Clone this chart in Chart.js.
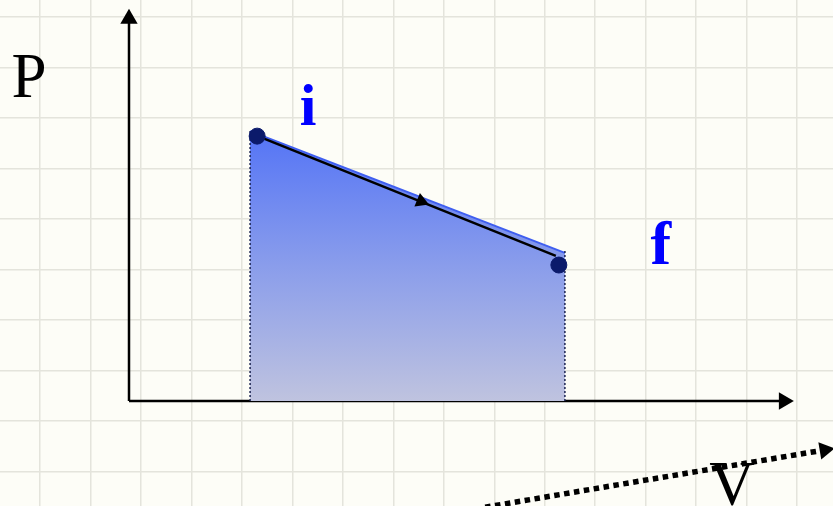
<!DOCTYPE html>
<html>
<head>
<meta charset="utf-8">
<script src="https://cdn.jsdelivr.net/npm/chart.js@4/dist/chart.umd.min.js"></script>
<style>
  html, body { margin: 0; padding: 0; background: #fdfdf7; }
  #wrap { width: 833px; height: 506px; }
</style>
</head>
<body>
<div id="wrap"><canvas id="pvChart"></canvas></div>
<script>
// P-V diagram, one grid cell = 1 unit, origin where the axes meet
const stateNames = ['i', 'f'];
const stateV = [2.54, 8.52];
const stateP = [5.24, 2.69];

// top edge of the shaded area (work done)
const areaV = [2.40, 8.64];
const areaP = [5.34, 2.93];

// process line i -> f
const pathV = [2.43, 8.46];
const pathP = [5.29, 2.87];

// background grid lines
const gridV = [-1.76, -0.76, 0.24, 1.24, 2.24, 3.24, 4.24, 5.24, 6.24, 7.24, 8.24, 9.24, 10.24, 11.24, 12.24, 13.24];
const gridP = [7.6, 6.6, 5.6, 4.6, 3.6, 2.6, 1.6, 0.6, -0.4, -1.4];

// axes lengths
const vAxisEnd = 12.94;
const pAxisEnd = 7.54;

// the stray dotted arrow at the bottom right
const strayV = [7.06, 13.66];
const strayP = [-2.10, -0.99];

const xy = (vs, ps) => vs.map((v, k) => ({ x: v, y: ps[k] }));

// (EN) text labels drawn on top of the chart
const labelsPlugin = {
    id: 'pvLabels',
    afterDraw(chart) {
        const ctx = chart.ctx;
        const sx = chart.scales.x, sy = chart.scales.y;
        ctx.save();
        ctx.textAlign = 'center';
        ctx.textBaseline = 'alphabetic';
        ctx.fillStyle = '#000';
        ctx.font = '63px "Liberation Serif"';
        ctx.fillText('P', sx.getPixelForValue(-1.98), sy.getPixelForValue(6.02));
        ctx.fillText('V', sx.getPixelForValue(11.95), sy.getPixelForValue(-2.05));
        ctx.fillStyle = '#0000ff';
        ctx.font = 'bold 60px "Liberation Serif"';
        ctx.fillText(stateNames[0], sx.getPixelForValue(3.55), sy.getPixelForValue(5.46));
        ctx.font = 'bold 62px "Liberation Serif"';
        ctx.fillText(stateNames[1], sx.getPixelForValue(10.54), sy.getPixelForValue(2.72));
        ctx.restore();
    }
};

new Chart(document.getElementById('pvChart'), {
    type: 'scatter',
    data: {
        datasets: [
            {   // states
                data: xy(stateV, stateP),
                pointRadius: 8,
                pointBackgroundColor: '#0b1a6b',
                pointBorderColor: '#0b1a6b',
                showLine: false
            },
            {   // arrowheads: mid path, V axis, P axis, stray arrow
                data: [
                    { x: 5.79, y: 3.95 },
                    { x: 12.98, y: 0 },
                    { x: 0, y: 7.56 },
                    { x: 13.79, y: -0.97 }
                ],
                pointStyle: 'triangle',
                pointRadius: [8.5, 10, 10, 10],
                pointRotation: [111.9, 90, 0, 80.5],
                pointBackgroundColor: '#000',
                pointBorderWidth: 0,
                showLine: false
            },
            {   // process line
                data: xy(pathV, pathP),
                showLine: true,
                borderColor: '#000',
                borderWidth: 2.5,
                pointRadius: 0
            },
            {   // left dotted drop line
                data: [{ x: areaV[0], y: 0 }, { x: areaV[0], y: areaP[0] }],
                showLine: true,
                borderColor: '#1a2250',
                borderWidth: 1.5,
                borderDash: [2, 2],
                pointRadius: 0
            },
            {   // right dotted drop line
                data: [{ x: areaV[1], y: 0 }, { x: areaV[1], y: 2.99 }],
                showLine: true,
                borderColor: '#1a2250',
                borderWidth: 1.5,
                borderDash: [2, 2],
                pointRadius: 0
            },
            {   // shaded area under the path
                data: xy(areaV, areaP),
                showLine: true,
                borderColor: '#3f5ef0',
                borderWidth: 2,
                pointRadius: 0,
                fill: 'origin',
                backgroundColor(c) {
                    const area = c.chart.chartArea;
                    if (!area) return '#7a8ff0';
                    const y = c.chart.scales.y;
                    const g = c.chart.ctx.createLinearGradient(0, y.getPixelForValue(areaP[0]), 0, y.getPixelForValue(0));
                    g.addColorStop(0, '#5474f6');
                    g.addColorStop(0.5, '#8a9deb');
                    g.addColorStop(1, '#bfc3df');
                    return g;
                }
            },
            {   // V axis
                data: [{ x: 0, y: 0 }, { x: vAxisEnd, y: 0 }],
                showLine: true,
                borderColor: '#000',
                borderWidth: 2.5,
                pointRadius: 0
            },
            {   // P axis
                data: [{ x: 0, y: 0 }, { x: 0, y: pAxisEnd }],
                showLine: true,
                borderColor: '#000',
                borderWidth: 2.5,
                pointRadius: 0
            },
            {   // stray dotted arrow
                data: xy(strayV, strayP),
                showLine: true,
                borderColor: '#000',
                borderWidth: 5.5,
                borderDash: [5.5, 4.5],
                pointRadius: 0
            }
        ]
    },
    options: {
        responsive: true,
        maintainAspectRatio: false,
        animation: false,
        layout: { padding: 0, autoPadding: false },
        plugins: { legend: { display: false }, tooltip: { enabled: false } },
        scales: {
            x: {
                type: 'linear',
                min: -2.557, max: 13.954,
                ticks: { display: false },
                border: { display: false },
                grid: { color: '#e4e4dc', lineWidth: 1.5, drawTicks: false },
                afterBuildTicks: s => { s.ticks = gridV.map(v => ({ value: v })); }
            },
            y: {
                type: 'linear',
                min: -2.077, max: 7.933,
                ticks: { display: false },
                border: { display: false },
                grid: { color: '#e4e4dc', lineWidth: 1.5, drawTicks: false },
                afterBuildTicks: s => { s.ticks = gridP.map(v => ({ value: v })); }
            }
        }
    },
    plugins: [labelsPlugin]
});
</script>
</body>
</html>
